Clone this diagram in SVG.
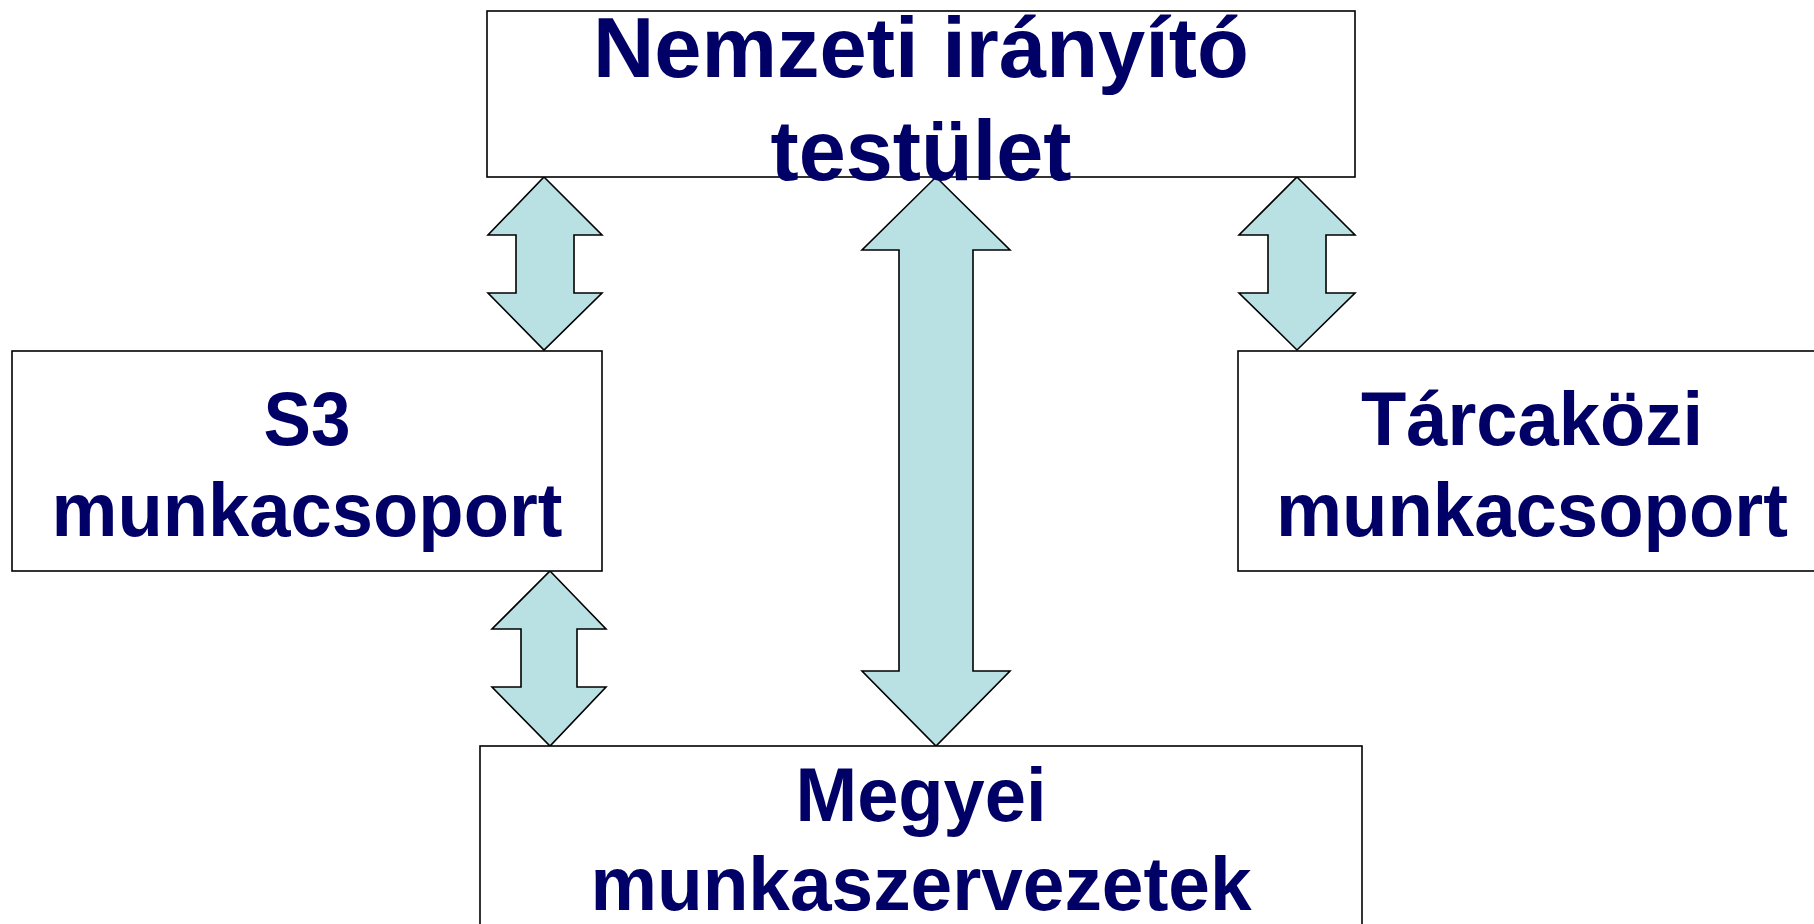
<svg xmlns="http://www.w3.org/2000/svg" width="1814" height="924" viewBox="0 0 1814 924">
<style>
.box{fill:#ffffff;stroke:#000000;stroke-width:1.6}
.arr{fill:#b9e0e3;stroke:#000000;stroke-width:1.6;stroke-linejoin:miter}
.t{font-family:"Liberation Sans",Arial,sans-serif;font-weight:bold;fill:#000066;text-anchor:middle}
.big{font-size:86px}
.mid{font-size:76px}
</style>
<rect width="1814" height="924" fill="#ffffff"/>
<g id="connectors">
<path class="arr" d="M544,177 L602,235 L574,235 L574,293 L602,293 L544,350 L488,293 L516,293 L516,235 L488,235 Z"/>
<path class="arr" d="M550,571 L606,629 L577,629 L577,687 L606,687 L550,746 L492,687 L521,687 L521,629 L492,629 Z"/>
<path class="arr" d="M936,177 L1010,250 L973,250 L973,671 L1010,671 L936,746 L862,671 L899,671 L899,250 L862,250 Z"/>
<path class="arr" d="M1297,177 L1355,235 L1326,235 L1326,293 L1355,293 L1297,350 L1239,293 L1268,293 L1268,235 L1239,235 Z"/>
</g>
<g id="node-nemzeti">
<rect class="box" x="487" y="11" width="868" height="166"/>
<text class="t big" x="921" y="77" textLength="656" lengthAdjust="spacingAndGlyphs">Nemzeti irányító</text>
<text class="t big" x="921" y="180" textLength="301" lengthAdjust="spacingAndGlyphs">testület</text>
</g>
<g id="node-s3">
<rect class="box" x="12" y="351" width="590" height="220"/>
<text class="t mid" x="307" y="445" textLength="87" lengthAdjust="spacingAndGlyphs">S3</text>
<text class="t mid" x="307" y="536" textLength="511" lengthAdjust="spacingAndGlyphs">munkacsoport</text>
</g>
<g id="node-tarcakozi">
<rect class="box" x="1238" y="351" width="600" height="220"/>
<text class="t mid" x="1532" y="445" textLength="342" lengthAdjust="spacingAndGlyphs">Tárcaközi</text>
<text class="t mid" x="1532" y="536" textLength="512" lengthAdjust="spacingAndGlyphs">munkacsoport</text>
</g>
<g id="node-megyei">
<rect class="box" x="480" y="746" width="882" height="200"/>
<text class="t mid" x="921" y="821" textLength="251" lengthAdjust="spacingAndGlyphs">Megyei</text>
<text class="t mid" x="921" y="910" textLength="661" lengthAdjust="spacingAndGlyphs">munkaszervezetek</text>
</g>
</svg>
